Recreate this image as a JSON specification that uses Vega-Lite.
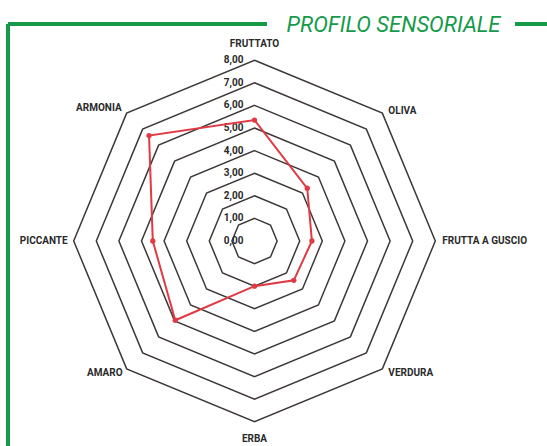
{
  "$schema": "https://vega.github.io/schema/vega-lite/v6.json",
  "width": 539,
  "height": 422,
  "autosize": {"type": "none"},
  "padding": {"left": 8, "top": 24, "right": 0, "bottom": 0},
  "background": "white",
  "title": {
    "text": "PROFILO SENSORIALE",
    "anchor": "middle",
    "frame": "group",
    "dx": 116,
    "dy": 30,
    "offset": 0,
    "baseline": "alphabetic",
    "font": "Roboto",
    "fontStyle": "italic",
    "fontWeight": "normal",
    "fontSize": 22,
    "color": "#159a4a"
  },
  "config": {
    "view": {"stroke": "#159a4a", "strokeWidth": 4, "strokeDash": [259, 248, 32, 961, 422, 0]}
  },
  "datasets": {
    "profile": [
      {"attr": "FRUTTATO", "i": 0, "v": 5.35},
      {"attr": "OLIVA", "i": 1, "v": 3.3},
      {"attr": "FRUTTA A GUSCIO", "i": 2, "v": 2.54},
      {"attr": "VERDURA", "i": 3, "v": 2.46},
      {"attr": "ERBA", "i": 4, "v": 2.0},
      {"attr": "AMARO", "i": 5, "v": 4.96},
      {"attr": "PICCANTE", "i": 6, "v": 4.5},
      {"attr": "ARMONIA", "i": 7, "v": 6.6}
    ],
    "grid": [
      {"level": 1, "i": [0, 1, 2, 3, 4, 5, 6, 7]},
      {"level": 2, "i": [0, 1, 2, 3, 4, 5, 6, 7]},
      {"level": 3, "i": [0, 1, 2, 3, 4, 5, 6, 7]},
      {"level": 4, "i": [0, 1, 2, 3, 4, 5, 6, 7]},
      {"level": 5, "i": [0, 1, 2, 3, 4, 5, 6, 7]},
      {"level": 6, "i": [0, 1, 2, 3, 4, 5, 6, 7]},
      {"level": 7, "i": [0, 1, 2, 3, 4, 5, 6, 7]},
      {"level": 8, "i": [0, 1, 2, 3, 4, 5, 6, 7]}
    ],
    "levels": [
      {"level": 0, "label": "0,00"},
      {"level": 1, "label": "1,00"},
      {"level": 2, "label": "2,00"},
      {"level": 3, "label": "3,00"},
      {"level": 4, "label": "4,00"},
      {"level": 5, "label": "5,00"},
      {"level": 6, "label": "6,00"},
      {"level": 7, "label": "7,00"},
      {"level": 8, "label": "8,00"}
    ]
  },
  "layer": [
    {
      "data": {"name": "grid"},
      "transform": [
        {"flatten": ["i"]},
        {"calculate": "datum.level * sin(datum.i * PI / 4)", "as": "px"},
        {"calculate": "datum.level * cos(datum.i * PI / 4)", "as": "py"}
      ],
      "mark": {"type": "line", "interpolate": "linear-closed", "stroke": "#3f3838", "strokeWidth": 1.5},
      "encoding": {
        "x": {"field": "px", "type": "quantitative", "scale": {"domain": [-10.907, 12.942], "nice": false, "zero": false}, "axis": null},
        "y": {"field": "py", "type": "quantitative", "scale": {"domain": [-9.071, 9.602], "nice": false, "zero": false}, "axis": null},
        "detail": {"field": "level"},
        "order": {"field": "i"}
      }
    },
    {
      "data": {"name": "levels"},
      "mark": {"type": "text", "align": "right", "baseline": "middle", "dx": -11, "font": "Roboto", "fontWeight": "bold", "fontSize": 10, "color": "#2a2a2a"},
      "encoding": {
        "x": {"datum": 0, "type": "quantitative"},
        "y": {"field": "level", "type": "quantitative"},
        "text": {"field": "label"}
      }
    },
    {
      "data": {"name": "profile"},
      "transform": [
        {"calculate": "datum.v * sin(datum.i * PI / 4)", "as": "px"},
        {"calculate": "datum.v * cos(datum.i * PI / 4)", "as": "py"}
      ],
      "layer": [
        {
          "mark": {"type": "line", "interpolate": "linear-closed", "stroke": "#e03a45", "strokeWidth": 2},
          "encoding": {
            "x": {"field": "px", "type": "quantitative"},
            "y": {"field": "py", "type": "quantitative"},
            "order": {"field": "i"}
          }
        },
        {
          "mark": {"type": "point", "filled": true, "shape": "circle", "size": 28, "color": "#e03a45", "opacity": 1},
          "encoding": {
            "x": {"field": "px", "type": "quantitative"},
            "y": {"field": "py", "type": "quantitative"}
          }
        }
      ]
    },
    {
      "data": {"name": "profile"},
      "transform": [
        {"calculate": "8 * sin(datum.i * PI / 4)", "as": "px"},
        {"calculate": "8 * cos(datum.i * PI / 4)", "as": "py"}
      ],
      "layer": [
        {
          "transform": [{"filter": "datum.i == 0"}],
          "mark": {"type": "text", "align": "center", "baseline": "middle", "dy": -16, "font": "Roboto", "fontWeight": "bold", "fontSize": 10, "color": "#2a2a2a"},
          "encoding": {"x": {"field": "px", "type": "quantitative"}, "y": {"field": "py", "type": "quantitative"}, "text": {"field": "attr"}}
        },
        {
          "transform": [{"filter": "datum.i == 4"}],
          "mark": {"type": "text", "align": "center", "baseline": "middle", "dy": 17, "font": "Roboto", "fontWeight": "bold", "fontSize": 10, "color": "#2a2a2a"},
          "encoding": {"x": {"field": "px", "type": "quantitative"}, "y": {"field": "py", "type": "quantitative"}, "text": {"field": "attr"}}
        },
        {
          "transform": [{"filter": "datum.i == 1"}],
          "mark": {"type": "text", "align": "left", "baseline": "middle", "dx": 6, "dy": -2, "font": "Roboto", "fontWeight": "bold", "fontSize": 10, "color": "#2a2a2a"},
          "encoding": {"x": {"field": "px", "type": "quantitative"}, "y": {"field": "py", "type": "quantitative"}, "text": {"field": "attr"}}
        },
        {
          "transform": [{"filter": "datum.i == 2"}],
          "mark": {"type": "text", "align": "left", "baseline": "middle", "dx": 7, "font": "Roboto", "fontWeight": "bold", "fontSize": 10, "color": "#2a2a2a"},
          "encoding": {"x": {"field": "px", "type": "quantitative"}, "y": {"field": "py", "type": "quantitative"}, "text": {"field": "attr"}}
        },
        {
          "transform": [{"filter": "datum.i == 3"}],
          "mark": {"type": "text", "align": "left", "baseline": "middle", "dx": 6, "dy": 4, "font": "Roboto", "fontWeight": "bold", "fontSize": 10, "color": "#2a2a2a"},
          "encoding": {"x": {"field": "px", "type": "quantitative"}, "y": {"field": "py", "type": "quantitative"}, "text": {"field": "attr"}}
        },
        {
          "transform": [{"filter": "datum.i == 5"}],
          "mark": {"type": "text", "align": "right", "baseline": "middle", "dx": -4, "dy": 4, "font": "Roboto", "fontWeight": "bold", "fontSize": 10, "color": "#2a2a2a"},
          "encoding": {"x": {"field": "px", "type": "quantitative"}, "y": {"field": "py", "type": "quantitative"}, "text": {"field": "attr"}}
        },
        {
          "transform": [{"filter": "datum.i == 6"}],
          "mark": {"type": "text", "align": "right", "baseline": "middle", "dx": -6, "font": "Roboto", "fontWeight": "bold", "fontSize": 10, "color": "#2a2a2a"},
          "encoding": {"x": {"field": "px", "type": "quantitative"}, "y": {"field": "py", "type": "quantitative"}, "text": {"field": "attr"}}
        },
        {
          "transform": [{"filter": "datum.i == 7"}],
          "mark": {"type": "text", "align": "right", "baseline": "middle", "dx": -5, "dy": -5, "font": "Roboto", "fontWeight": "bold", "fontSize": 10, "color": "#2a2a2a"},
          "encoding": {"x": {"field": "px", "type": "quantitative"}, "y": {"field": "py", "type": "quantitative"}, "text": {"field": "attr"}}
        }
      ]
    }
  ]
}
